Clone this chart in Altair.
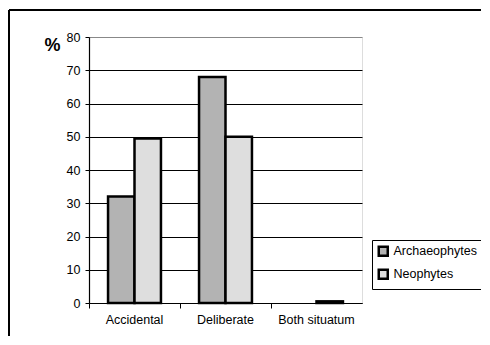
import altair as alt
import pandas as pd

categories = ["Accidental", "Deliberate", "Both situatum"]
series = ["Archaeophytes", "Neophytes"]
archaeophytes = [32, 68, 0]
neophytes = [49.5, 50, 0.5]
y_ticks = [0, 10, 20, 30, 40, 50, 60, 70, 80]

rows = []
for c, a, n in zip(categories, archaeophytes, neophytes):
    rows.append({"cat": c, "series": series[0], "value": a})
    rows.append({"cat": c, "series": series[1], "value": n})
df = pd.DataFrame(rows)

FONT = "Liberation Sans"
W, H = 273, 266

bars = alt.Chart(df).mark_bar(stroke="black", strokeWidth=2.5).encode(
    x=alt.X("cat:N", sort=categories, title=None,
            scale=alt.Scale(paddingInner=0, paddingOuter=0),
            axis=alt.Axis(labelAngle=0, bandPosition=0,
                          domainColor="black", domainWidth=1.2, tickColor="black",
                          tickSize=5, labelPadding=5, labelFontSize=12.5,
                          labelFont=FONT, labelColor="black")),
    xOffset=alt.XOffset("series:N", sort=series,
                        scale=alt.Scale(paddingInner=0, paddingOuter=0.72)),
    y=alt.Y("value:Q", title="%",
            scale=alt.Scale(domain=[0, 80], nice=False),
            axis=alt.Axis(values=y_ticks, grid=True,
                          gridColor=alt.condition("datum.value == 80", alt.value("#888888"), alt.value("black")),
                          gridWidth=1, domainColor="black", domainWidth=1.2,
                          tickColor="black", tickSize=4, labelPadding=5,
                          labelFontSize=12.5, labelFont=FONT, labelColor="black",
                          titleAngle=0, titleFontSize=18, titleFont=FONT,
                          titleFontWeight="bold", titleX=-37, titleY=13,
                          titleAlign="center", titleBaseline="alphabetic")),
    fill=alt.Fill("series:N", sort=series, title=None,
                  scale=alt.Scale(domain=series, range=["#b3b3b3", "#dedede"]),
                  legend=alt.Legend(orient="none", legendX=283, legendY=203,
                                    strokeColor="black", padding=5,
                                    symbolType="square", symbolSize=81,
                                    symbolStrokeColor="black", symbolStrokeWidth=2.5,
                                    labelFontSize=12.5, labelFont=FONT, labelColor="black",
                                    rowPadding=3, labelOffset=4)),
    opacity=alt.condition("datum.value == 0", alt.value(0), alt.value(1)),
)

border_v = alt.Chart(df).mark_rule(color="black", strokeWidth=1.5).encode(
    x=alt.value(-80), y=alt.value(-27), y2=alt.value(300))
border_h = alt.Chart(df).mark_rule(color="black", strokeWidth=1.5).encode(
    x=alt.value(-80), x2=alt.value(392), y=alt.value(-27))

chart = alt.layer(bars, border_v, border_h).properties(
    width=W, height=H,
    padding={"left": 81, "top": 29, "right": 119, "bottom": 33},
    autosize=alt.AutoSizeParams(type="none"),
).configure_view(stroke="#888888", strokeWidth=1.5).configure(background="white")

chart.save("out.html", embed_options={"renderer": "svg", "actions": False})
